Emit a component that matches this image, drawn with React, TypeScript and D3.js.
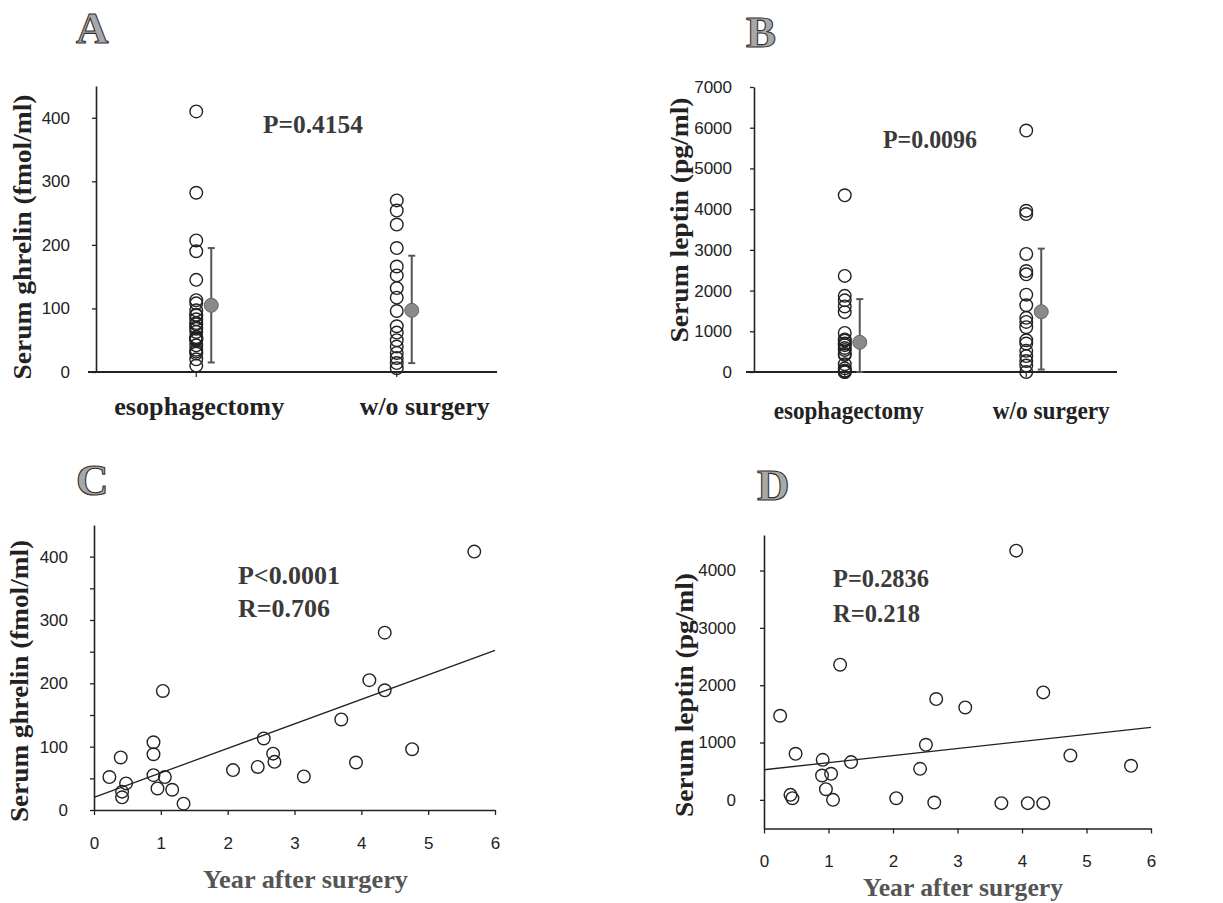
import React, { useEffect, useRef } from "react";
import * as d3 from "d3";

// ---- data ----
const groups = ["esophagectomy", "w/o surgery"];

// A: serum ghrelin (fmol/ml) by group
const ghrelinEsophagectomy = [410, 282, 207, 190, 145, 113, 108, 97, 90, 89, 83, 77, 75, 70, 68, 63, 55, 53, 52, 52, 50, 42, 35, 32, 29, 20, 10];
const ghrelinNoSurgery = [270, 254, 232, 195, 166, 152, 132, 117, 96, 72, 62, 50, 40, 30, 22, 14, 6];
const ghrelinMean = [105, 97];
const ghrelinSdTop = [195, 183];
const ghrelinSdBottom = [15, 14];

// B: serum leptin (pg/ml) by group
const leptinEsophagectomy = [4340, 2360, 1870, 1760, 1610, 1470, 960, 800, 770, 700, 660, 590, 540, 450, 420, 190, 90, 30, 30, 0, 0];
const leptinNoSurgery = [5930, 3960, 3880, 2900, 2480, 2400, 1900, 1640, 1330, 1230, 1100, 780, 700, 520, 390, 270, 160, 0];
const leptinMean = [730, 1480];
const leptinSdTop = [1790, 3030];
const leptinSdBottom = [0, 60];

// C: ghrelin vs year after surgery
const yearsC = [0.23, 0.4, 0.42, 0.42, 0.48, 0.89, 0.89, 0.89, 0.95, 1.03, 1.06, 1.17, 1.34, 2.08, 2.45, 2.54, 2.68, 2.7, 3.14, 3.7, 3.92, 4.12, 4.35, 4.35, 4.76, 5.69];
const ghrelinC = [52, 83, 20, 29, 42, 107, 88, 55, 34, 188, 52, 32, 10, 63, 68, 113, 89, 76, 53, 143, 75, 205, 280, 189, 96, 408];
const fitYears = [0, 6];
const ghrelinFit = [20, 252];

// D: leptin vs year after surgery
const yearsD = [0.25, 0.49, 0.41, 0.44, 0.91, 0.9, 1.04, 0.96, 1.07, 1.18, 1.35, 2.05, 2.42, 2.51, 2.64, 2.67, 3.12, 3.68, 3.91, 4.09, 4.33, 4.33, 4.75, 5.69];
const leptinD = [1467, 803, 87, 29, 698, 425, 454, 186, 0, 2357, 658, 29, 541, 960, -47, 1758, 1612, -58, 4347, -58, -58, 1874, 774, 594];
const leptinFit = [525, 1265];

const ghrelinTicks = [0, 100, 200, 300, 400];
const ghrelinMinor = [50, 150, 250, 350];
const leptinTicksB = [0, 1000, 2000, 3000, 4000, 5000, 6000, 7000];
const leptinTicksD = [0, 1000, 2000, 3000, 4000];
const yearTicks = [0, 1, 2, 3, 4, 5, 6];

const serif = "'Liberation Serif', 'Times New Roman', serif";
const sans = "'Liberation Sans Narrow', 'Liberation Sans', Arial, sans-serif";
const ink = "#222";

const boldText = (svg: any, txt: string, x: number, y: number, len: number, size = 26, color = ink) =>
  svg.append("text")
    .attr("x", x).attr("y", y)
    .attr("font-family", serif).attr("font-weight", "bold")
    .attr("font-size", size).attr("fill", color)
    .attr("textLength", len).attr("lengthAdjust", "spacingAndGlyphs")
    .text(txt);

const letter = (svg: any, txt: string, x: number, y: number) =>
  svg.append("text")
    .attr("x", x).attr("y", y)
    .attr("font-family", serif).attr("font-weight", "bold")
    .attr("font-size", 45).attr("fill", "#a8a8a8")
    .attr("stroke", "#333").attr("stroke-width", 1.1)
    .text(txt);

const yTitle = (svg: any, txt: string, x: number, cy: number, len: number) =>
  svg.append("text")
    .attr("transform", `translate(${x},${cy}) rotate(-90)`)
    .attr("text-anchor", "middle")
    .attr("font-family", serif).attr("font-weight", "bold")
    .attr("font-size", 26).attr("fill", ink)
    .attr("textLength", len).attr("lengthAdjust", "spacingAndGlyphs")
    .text(txt);

const styleAxis = (g: any) => {
  g.attr("font-size", 17).attr("font-family", sans);
  g.select(".domain").attr("stroke", ink).attr("stroke-width", 1.6);
  g.selectAll(".tick line").attr("stroke", ink).attr("stroke-width", 1.3);
  g.selectAll(".tick text").attr("font-family", sans).attr("font-size", 17).attr("fill", ink);
};

function groupPanel(svg: any, o: any) {
  const x = d3.scalePoint().domain(groups).range([o.x0, o.x1]).padding(0.5);
  const y = d3.scaleLinear().domain(o.domain).range([o.yBottom, o.yTop]);

  const ya = svg.append("g").attr("transform", `translate(${o.x0},0)`)
    .call(d3.axisLeft(y).tickValues(o.ticks).tickSize(4).tickSizeOuter(0).tickPadding(o.pad).tickFormat(d3.format("d")));
  styleAxis(ya);

  // baseline
  svg.append("line")
    .attr("x1", o.x0 - 8).attr("x2", o.x1).attr("y1", y(0)).attr("y2", y(0))
    .attr("stroke", ink).attr("stroke-width", 1.8);
  svg.selectAll(null).data(groups).enter().append("line")
    .attr("x1", (d: string) => x(d)).attr("x2", (d: string) => x(d))
    .attr("y1", y(0)).attr("y2", y(0) + 5)
    .attr("stroke", ink).attr("stroke-width", 1.2);

  [o.first, o.second].forEach((vals: number[], i: number) => {
    svg.selectAll(null).data(vals).enter().append("circle")
      .attr("cx", x(groups[i])).attr("cy", (d: number) => y(d)).attr("r", 6.3)
      .attr("fill", "none").attr("stroke", ink).attr("stroke-width", 1.4);
  });

  groups.forEach((gname, i) => {
    const cx = (x(gname) as number) + 15;
    svg.append("line").attr("x1", cx).attr("x2", cx)
      .attr("y1", y(o.top[i])).attr("y2", y(o.bottom[i]))
      .attr("stroke", "#555").attr("stroke-width", 2);
    [o.top[i], o.bottom[i]].forEach((v: number) =>
      svg.append("line").attr("x1", cx - 3.5).attr("x2", cx + 3.5)
        .attr("y1", y(v)).attr("y2", y(v))
        .attr("stroke", "#555").attr("stroke-width", 2));
    svg.append("circle").attr("cx", cx).attr("cy", y(o.mean[i])).attr("r", 7)
      .attr("fill", "#8a8a8a").attr("stroke", "#666").attr("stroke-width", 1);
    boldText(svg, gname, (x(gname) as number) + o.labelShift[i] - o.labelLen[i] / 2, o.labelY, o.labelLen[i]);
  });
}

function yearPanel(svg: any, o: any) {
  const x = d3.scaleLinear().domain([0, 6]).range([o.x0, o.x1]);
  const y = d3.scaleLinear().domain(o.domain).range([o.yBottom, o.yTop]);

  const ya = svg.append("g").attr("transform", `translate(${o.x0},0)`)
    .call(d3.axisLeft(y).tickValues(o.ticks).tickSize(4).tickSizeOuter(0).tickPadding(o.pad)
      .tickFormat((d: any) => (o.labels.includes(d) ? String(d) : "")));
  styleAxis(ya);

  const xa = svg.append("g").attr("transform", `translate(0,${o.yBottom})`)
    .call(d3.axisBottom(x).tickValues(yearTicks).tickSize(5).tickSizeOuter(0).tickPadding(o.xpad).tickFormat(d3.format("d")));
  styleAxis(xa);

  const line = d3.line<number>().x((d) => x(d)).y((_, i) => y(o.fit[i]));
  svg.append("path").datum(fitYears).attr("d", line)
    .attr("fill", "none").attr("stroke", ink).attr("stroke-width", 1.3);

  svg.selectAll(null).data(o.xs).enter().append("circle")
    .attr("cx", (d: number) => x(d)).attr("cy", (_: number, i: number) => y(o.ys[i])).attr("r", 6.3)
    .attr("fill", "none").attr("stroke", ink).attr("stroke-width", 1.4);
}

function App() {
  const ref = useRef<SVGSVGElement>(null);

  useEffect(() => {
    const svg = d3.select(ref.current);
    svg.selectAll("*").remove();
    svg.append("rect").attr("width", 1223).attr("height", 903).attr("fill", "white");

    // A
    letter(svg, "A", 76, 43);
    yTitle(svg, "Serum ghrelin (fmol/ml)", 31, 237, 285);
    groupPanel(svg, {
      x0: 96, x1: 497, yTop: 86, yBottom: 372, domain: [0, 450], ticks: ghrelinTicks, pad: 22,
      first: ghrelinEsophagectomy, second: ghrelinNoSurgery,
      mean: ghrelinMean, top: ghrelinSdTop, bottom: ghrelinSdBottom,
      labelShift: [3, 28], labelLen: [170, 130], labelY: 415,
    });
    boldText(svg, "P=0.4154", 263, 133, 100, 26, "#3a3a3a");

    // B
    letter(svg, "B", 746, 47);
    yTitle(svg, "Serum leptin (pg/ml)", 688, 220, 245);
    groupPanel(svg, {
      x0: 754, x1: 1117, yTop: 87, yBottom: 372, domain: [0, 7000], ticks: leptinTicksB, pad: 18,
      first: leptinEsophagectomy, second: leptinNoSurgery,
      mean: leptinMean, top: leptinSdTop, bottom: leptinSdBottom,
      labelShift: [4, 25], labelLen: [150, 117], labelY: 419,
    });
    boldText(svg, "P=0.0096", 883, 148, 94, 26, "#3a3a3a");

    // C
    letter(svg, "C", 76, 495);
    yTitle(svg, "Serum ghrelin (fmol/ml)", 28, 681, 282);
    yearPanel(svg, {
      x0: 94, x1: 495, yTop: 525, yBottom: 810, domain: [0, 450],
      ticks: [...ghrelinTicks, ...ghrelinMinor], labels: ghrelinTicks, pad: 22, xpad: 22,
      xs: yearsC, ys: ghrelinC, fit: ghrelinFit,
    });
    boldText(svg, "P<0.0001", 238, 584, 102, 26, "#3a3a3a");
    boldText(svg, "R=0.706", 238, 617, 92, 26, "#3a3a3a");
    boldText(svg, "Year after surgery", 203, 888, 205, 26, "#555");

    // D
    letter(svg, "D", 757, 500);
    yTitle(svg, "Serum leptin (pg/ml)", 693, 695, 244);
    yearPanel(svg, {
      x0: 764, x1: 1151, yTop: 535, yBottom: 828.5, domain: [-500, 4620],
      ticks: leptinTicksD, labels: leptinTicksD, pad: 24, xpad: 21,
      xs: yearsD, ys: leptinD, fit: leptinFit,
    });
    boldText(svg, "P=0.2836", 833, 587, 96, 26, "#3a3a3a");
    boldText(svg, "R=0.218", 833, 622, 87, 26, "#3a3a3a");
    boldText(svg, "Year after surgery", 863, 896, 200, 25, "#555");
  }, []);

  return (
    <svg ref={ref} width={1223} height={903}
      style={{ position: "absolute", left: 0, top: 0, display: "block" }} />
  );
}

export default App;
